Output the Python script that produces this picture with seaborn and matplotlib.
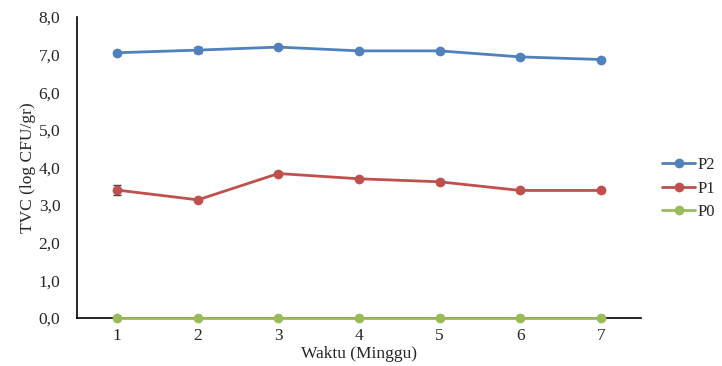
import pandas as pd
import matplotlib.pyplot as plt
import seaborn as sns

weeks = [1, 2, 3, 4, 5, 6, 7]
p2 = [7.05, 7.12, 7.20, 7.10, 7.10, 6.94, 6.87]
p1 = [3.40, 3.14, 3.84, 3.70, 3.62, 3.39, 3.39]
p0 = [0.0, 0.0, 0.0, 0.0, 0.0, 0.0, 0.0]
err_p2 = [0.02, 0.09, 0.03, 0.03, 0.03, 0.05, 0.02]
err_p1 = [0.13, 0.03, 0.03, 0.03, 0.05, 0.03, 0.04]
err_p0 = [0.0, 0.0, 0.0, 0.0, 0.0, 0.0, 0.0]

df = pd.concat([
    pd.DataFrame({'week': weeks, 'tvc': p2, 'err': err_p2, 'grp': 'P2'}),
    pd.DataFrame({'week': weeks, 'tvc': p1, 'err': err_p1, 'grp': 'P1'}),
    pd.DataFrame({'week': weeks, 'tvc': p0, 'err': err_p0, 'grp': 'P0'}),
])

colors = {'P2': '#4F81BD', 'P1': '#C0504D', 'P0': '#9BBB59'}

sns.set_style('white')
plt.rcParams['font.family'] = ['Liberation Serif', 'DejaVu Serif']

fig = plt.figure(figsize=(7.22, 3.66), dpi=100)
ax = fig.add_axes([77/722, 1-318/366, (641-77)/722, (318-17)/366])

for g, d in df.groupby('grp', sort=False):
    ax.errorbar(d.week, d.tvc, yerr=d.err, fmt='none', ecolor='#404040',
                elinewidth=1, capsize=3, capthick=1, zorder=1)

sns.lineplot(data=df, x='week', y='tvc', hue='grp', palette=colors,
             marker='o', markersize=7, markeredgewidth=0, linewidth=2,
             ax=ax, zorder=3, clip_on=False)

ax.set_xlim(0.5, 7.5)
ax.set_ylim(0, 8)
ax.set_xticks(weeks)
ax.set_yticks(range(0, 9))
ax.set_yticklabels([f'{v},0' for v in range(0, 9)])
ax.tick_params(axis='both', length=0, labelsize=12.5)
ax.tick_params(axis='y', pad=12)
ax.tick_params(axis='x', pad=7)
ax.set_xlabel('Waktu (Minggu)', size=12.5, labelpad=2)
ax.set_ylabel('TVC (log CFU/gr)', size=12.5, labelpad=2)
for s in ['top', 'right']:
    ax.spines[s].set_visible(False)
for s in ['left', 'bottom']:
    ax.spines[s].set_color('black')
    ax.spines[s].set_linewidth(1.2)

ax.legend(title=None, frameon=False, loc='center left', bbox_to_anchor=(1.037, 0.43),
          borderaxespad=0, borderpad=0, fontsize=12, handlelength=2.0,
          handletextpad=0.15, labelspacing=0.45)

plt.savefig('out.png')
